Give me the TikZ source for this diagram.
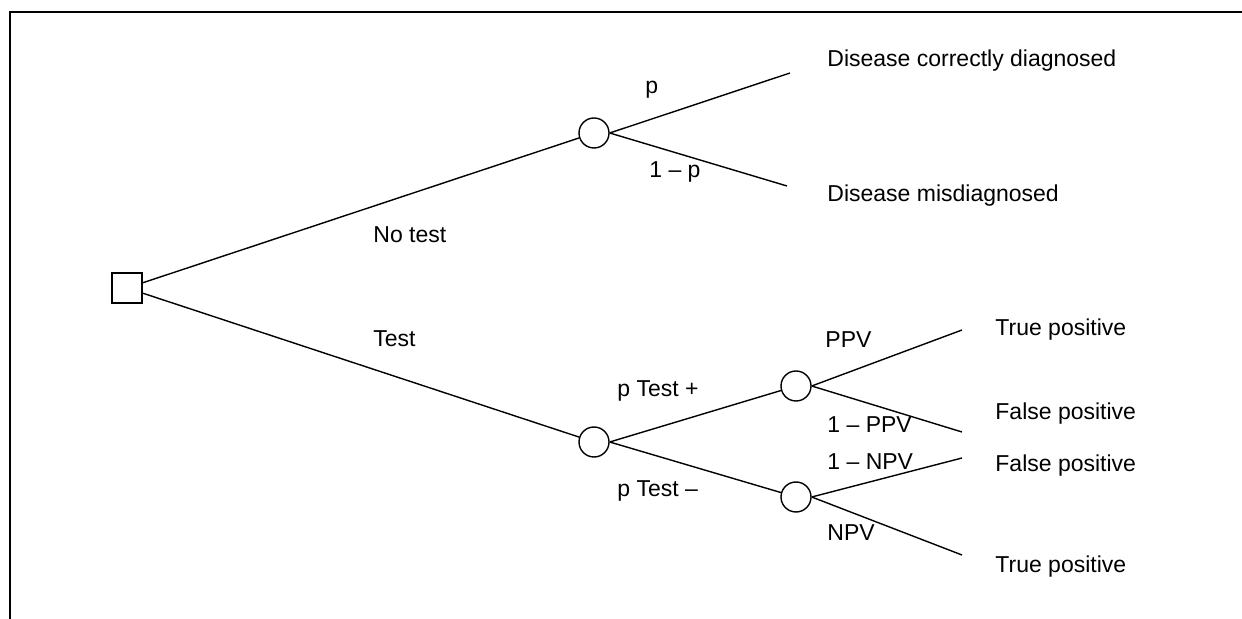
\documentclass[tikz,border=0pt]{standalone}
\usepackage{fontspec}
\setmainfont{Liberation Sans}
\usepackage{tikz}
\usetikzlibrary{positioning}

\tikzset{
  decision/.style={rectangle,draw=black,line width=0.7pt,inner sep=0pt,minimum size=15pt},
  chance/.style={circle,draw=black,line width=0.7pt,inner sep=0pt,minimum size=15pt},
  lbl/.style={anchor=base west,inner sep=0pt,font=\fontsize{11.5}{13}\selectfont},
}

\begin{document}
\begin{tikzpicture}[x=0.5pt,y=-0.5pt]
        \useasboundingbox (0,0) rectangle (1242,619);
        \draw[line width=1pt] (10,619) -- (10,12) -- (1242,12);
        % decision and chance nodes
        \node[decision] (root) at (127,288) {};
        \node[chance] (notest) at (594,133) {};
        \node[chance] (test) at (594,442) {};
        \node[chance] (pos) at (796,386) {};
        \node[chance] (neg) at (796,497) {};
        % branch ends
        \coordinate (ntA) at (790,73);
        \coordinate (ntB) at (787,186);
        \coordinate (posA) at (962,330);
        \coordinate (posB) at (962,432);
        \coordinate (negA) at (962,458);
        \coordinate (negB) at (962,555);
        \draw[line width=0.7pt] (root)--(notest); \draw[line width=0.7pt] (root)--(test);
        \draw[line width=0.7pt] (notest.east)--(ntA); \draw[line width=0.7pt] (notest.east)--(ntB);
        \draw[line width=0.7pt] (test.east)--(pos); \draw[line width=0.7pt] (test.east)--(neg);
        \draw[line width=0.7pt] (pos.east)--(posA); \draw[line width=0.7pt] (pos.east)--(posB);
        \draw[line width=0.7pt] (neg.east)--(negA); \draw[line width=0.7pt] (neg.east)--(negB);
        % labels
        \node[lbl] (lnotest) at (373,243) {No test};
        \node[lbl] (ltest) at (373,347) {Test};
        \node[lbl] (lp) at (645,94) {p};
        \node[lbl] (lq) at (649,178) {1 – p};
        \node[lbl] (ltp) at (617,397) {p Test +};
        \node[lbl] (ltn) at (617,497) {p Test –};
        \node[lbl] (lppv) at (825,348) {PPV};
        \node[lbl] (lqppv) at (827,433) {1 – PPV};
        \node[lbl] (lqnpv) at (827,470) {1 – NPV};
        \node[lbl] (lnpv) at (827,541) {NPV};
        \node[lbl] (ocorrect) at (827,67) {Disease correctly diagnosed};
        \node[lbl] (omis) at (827,202) {Disease misdiagnosed};
        \node[lbl] (otp1) at (995,336) {True positive};
        \node[lbl] (ofp1) at (995,420) {False positive};
        \node[lbl] (ofp2) at (995,472) {False positive};
        \node[lbl] (otp2) at (995,573) {True positive};
\end{tikzpicture}
\end{document}
